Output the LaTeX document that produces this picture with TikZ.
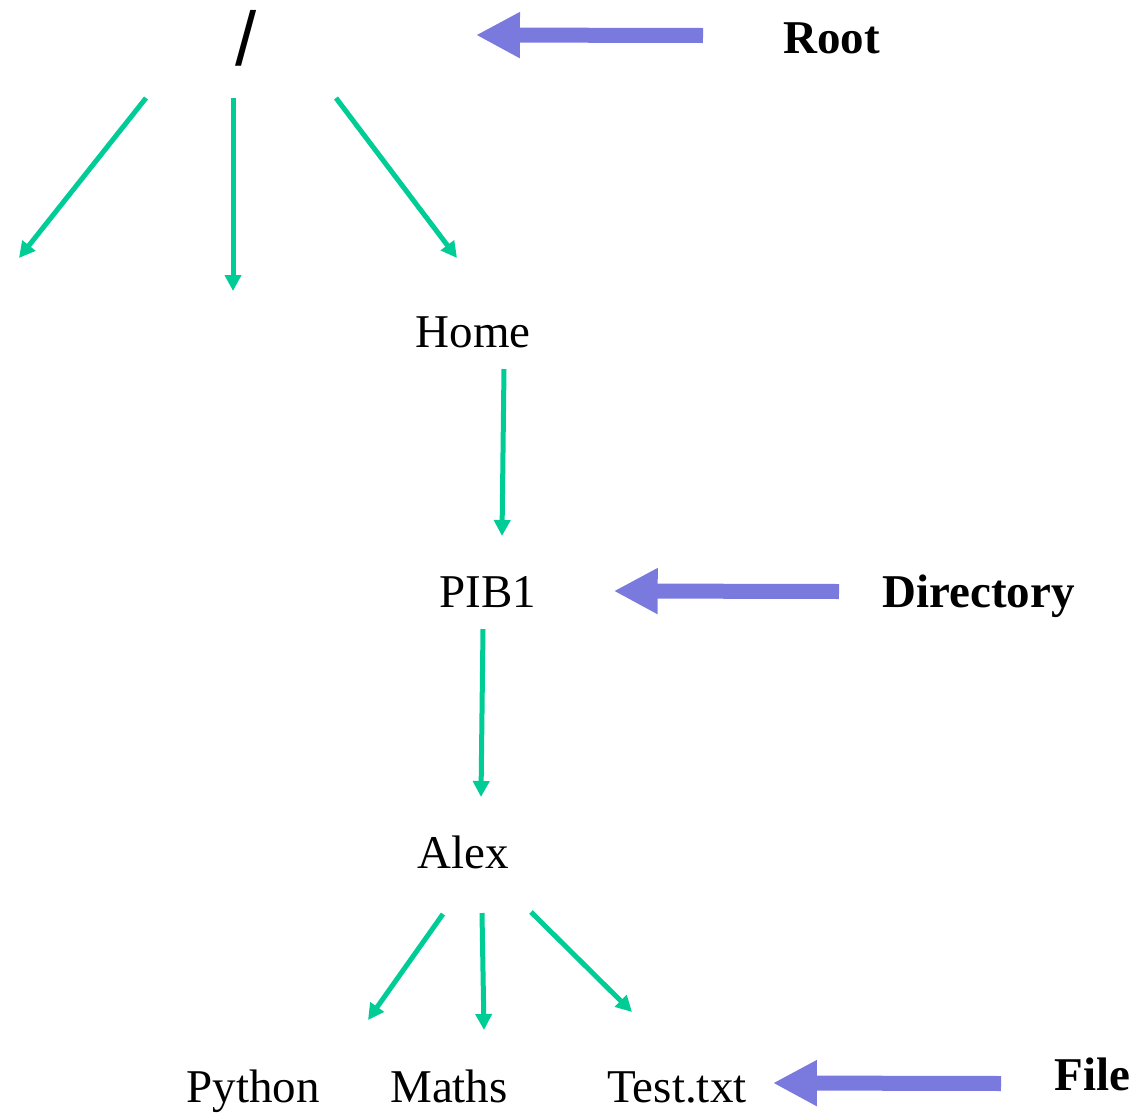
\documentclass[tikz,border=0pt]{standalone}
\usepackage{fontspec}
\setmainfont{Liberation Serif}
\newfontfamily\slashfont{Liberation Sans}
\usetikzlibrary{arrows.meta}
\definecolor{treegreen}{RGB}{0,204,150}
\definecolor{tagblue}{RGB}{122,122,222}
\tikzset{
    entry/.style={
        inner sep=0pt,
        anchor=base,
        font=\fontsize{23.5}{28}\selectfont
    },
    kind/.style={
        entry,
        anchor=base west,
        font=\fontsize{23.5}{28}\selectfont\bfseries
    },
    branch/.style={
        draw=treegreen,
        line width=2.5pt,
        -{Triangle[length=8pt,width=8pt]}
    },
    pointer/.style={
        draw=tagblue,
        line width=7.5pt,
        -{Triangle[length=22pt,width=21.5pt]}
    }
}

\begin{document}
\begin{tikzpicture}[x=0.5pt,y=-0.5pt]
    \useasboundingbox (0,0) rectangle (1142,1114);
    % the tree
    \node [entry, font=\slashfont\fontsize{38}{40}\selectfont] (slash) at (246,65) {/};
    \node [entry] (home) at (473,347) {Home};
    \node [entry] (pib) at (488,607) {PIB1};
    \node [entry] (alex) at (463,868) {Alex};
    \node [entry] (python) at (253,1102) {Python};
    \node [entry] (maths) at (449,1102) {Maths};
    \node [entry] (test) at (677,1102) {Test.txt};
    % free ends under the root
    \coordinate (binEnd) at (19,258);
    \coordinate (etcEnd) at (233,291);
    \draw [branch] ([shift={(-100,33)}]slash.base) -- (binEnd);
    \draw [branch] ([shift={(-13,33)}]slash.base) -- (etcEnd);
    \draw [branch] ([shift={(90,33)}]slash.base) -- ([shift={(-16,-89)}]home.base);
    \draw [branch] ([shift={(31,22)}]home.base) -- ([shift={(14,-71)}]pib.base);
    \draw [branch] ([shift={(-5,22)}]pib.base) -- ([shift={(18,-71)}]alex.base);
    \draw [branch] ([shift={(-20,46)}]alex.base) -- ([shift={(115,-82)}]python.base);
    \draw [branch] ([shift={(19,45)}]alex.base) -- ([shift={(35,-72)}]maths.base);
    \draw [branch] ([shift={(68,44)}]alex.base) -- ([shift={(-45,-90)}]test.base);
    % what each level is
    \node [kind] (rootlbl) at (783,53) {Root};
    \node [kind] (dirlbl) at (882,607) {Directory};
    \node [kind] (filelbl) at (1054,1090) {File};
    \draw [pointer] ([shift={(-80,-17.5)}]rootlbl.base west) -- ([shift={(219,-30)}]slash.base east);
    \draw [pointer] ([shift={(-43,-15.5)}]dirlbl.base west) -- ([shift={(77,-16)}]pib.base east);
    \draw [pointer] ([shift={(-53,-6.5)}]filelbl.base west) -- ([shift={(26,-19)}]test.base east);
\end{tikzpicture}
\end{document}
